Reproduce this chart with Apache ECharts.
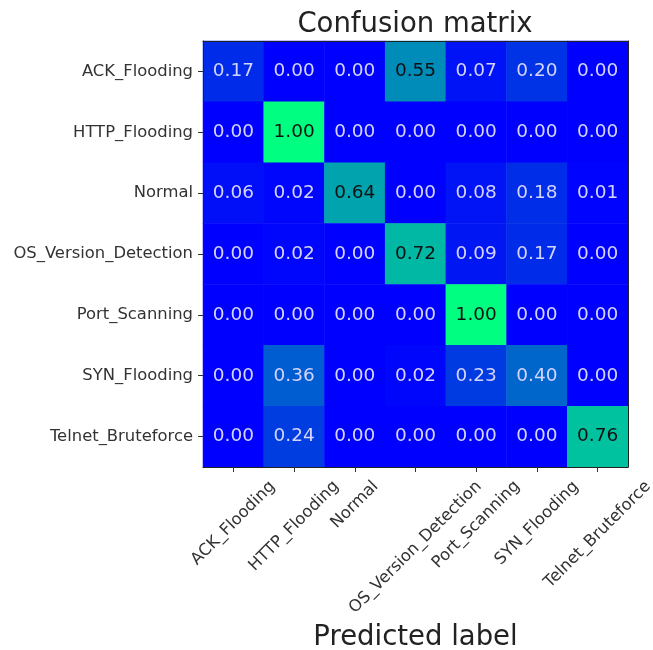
<!DOCTYPE html>
<html lang="en">

<head>
    <meta charset="UTF-8">
    <title>Confusion matrix</title>
    <script src="https://cdn.jsdelivr.net/npm/echarts@6/dist/echarts.min.js"></script>
    <style>
        body,
        html {
            margin: 0;
            padding: 0;
            background: #fff;
        }

        #main {
            width: 653px;
            height: 650px;
        }
    </style>
</head>

<body>
    <div id="main"></div>
    <script>
        var classes = ['ACK_Flooding', 'HTTP_Flooding', 'Normal', 'OS_Version_Detection', 'Port_Scanning', 'SYN_Flooding', 'Telnet_Bruteforce'];
        // one array per true label, columns = predicted label
        var rowAck = [0.17, 0.00, 0.00, 0.55, 0.07, 0.20, 0.00];
        var rowHttp = [0.00, 1.00, 0.00, 0.00, 0.00, 0.00, 0.00];
        var rowNormal = [0.06, 0.02, 0.64, 0.00, 0.08, 0.18, 0.01];
        var rowOs = [0.00, 0.02, 0.00, 0.72, 0.09, 0.17, 0.00];
        var rowPort = [0.00, 0.00, 0.00, 0.00, 1.00, 0.00, 0.00];
        var rowSyn = [0.00, 0.36, 0.00, 0.02, 0.23, 0.40, 0.00];
        var rowTelnet = [0.00, 0.24, 0.00, 0.00, 0.00, 0.00, 0.76];
        var matrix = [rowAck, rowHttp, rowNormal, rowOs, rowPort, rowSyn, rowTelnet];

        var font = 'DejaVu Sans';
        var tickFont = 16.4;

        var data = [];
        for (var i = 0; i < matrix.length; i++) {
            for (var j = 0; j < matrix[i].length; j++) {
                var v = matrix[i][j];
                data.push({
                    value: [j, i, v],
                    label: { color: v > 0.5 ? '#111' : '#d4d4ff' }
                });
            }
        }

        // matplotlib centres the rotated label box under the tick,
        // so push each label down according to its length
        var ctx = document.createElement('canvas').getContext('2d');
        ctx.font = tickFont + 'px "' + font + '"';
        var rich = {};
        for (var k = 0; k < classes.length; k++) {
            var w = ctx.measureText(classes[k]).width;
            var p = Math.round((w + tickFont) / 2);
            rich['c' + k] = {
                fontSize: tickFont,
                fontFamily: font,
                color: '#333',
                padding: [p, p, 0, 0]
            };
        }

        var myChart = echarts.init(document.getElementById('main'));
        var option = {
            animation: false,
            title: {
                text: 'Confusion matrix',
                left: 415,
                top: 11,
                padding: 0,
                textAlign: 'center',
                textStyle: {
                    fontFamily: font,
                    fontSize: 27.5,
                    fontWeight: 'normal',
                    color: '#222'
                }
            },
            grid: {
                left: 203,
                top: 41,
                width: 425,
                height: 426,
                outerBoundsMode: 'none'
            },
            xAxis: [{
                type: 'category',
                data: classes,
                position: 'bottom',
                z: 5,
                splitArea: { show: false },
                axisLine: { show: true, lineStyle: { color: '#222', width: 1 } },
                axisTick: { show: true, alignWithLabel: true, length: 5, lineStyle: { color: '#333' } },
                axisLabel: {
                    interval: 0,
                    rotate: 45,
                    align: 'center',
                    verticalAlign: 'middle',
                    margin: 11,
                    hideOverlap: false,
                    formatter: function (value, index) {
                        return '{c' + index + '|' + value + '}';
                    },
                    rich: rich
                },
                name: 'Predicted label',
                nameLocation: 'middle',
                nameGap: 153,
                nameTextStyle: {
                    fontFamily: font,
                    fontSize: 27.5,
                    color: '#222'
                }
            }, {
                type: 'category',
                data: classes,
                position: 'top',
                z: 5,
                axisLine: { show: true, lineStyle: { color: '#222', width: 1 } },
                axisTick: { show: false },
                axisLabel: { show: false }
            }],
            yAxis: [{
                type: 'category',
                data: classes,
                inverse: true,
                position: 'left',
                z: 5,
                splitArea: { show: false },
                axisLine: { show: true, lineStyle: { color: '#222', width: 1 } },
                axisTick: { show: true, alignWithLabel: true, length: 5, lineStyle: { color: '#333' } },
                axisLabel: {
                    interval: 0,
                    margin: 10,
                    color: '#333',
                    fontFamily: font,
                    fontSize: tickFont
                }
            }, {
                type: 'category',
                data: classes,
                inverse: true,
                position: 'right',
                z: 5,
                axisLine: { show: true, lineStyle: { color: '#222', width: 1 } },
                axisTick: { show: false },
                axisLabel: { show: false }
            }],
            visualMap: {
                show: false,
                min: 0,
                max: 1,
                dimension: 2,
                seriesIndex: 0,
                inRange: { color: ['#0000ff', '#00ff80'] }
            },
            series: [{
                type: 'heatmap',
                xAxisIndex: 0,
                yAxisIndex: 0,
                data: data,
                label: {
                    show: true,
                    fontFamily: font,
                    fontSize: 18.5,
                    formatter: function (params) {
                        return params.value[2].toFixed(2);
                    }
                },
                emphasis: { disabled: true }
            }]
        };
        myChart.setOption(option);
    </script>
</body>

</html>
